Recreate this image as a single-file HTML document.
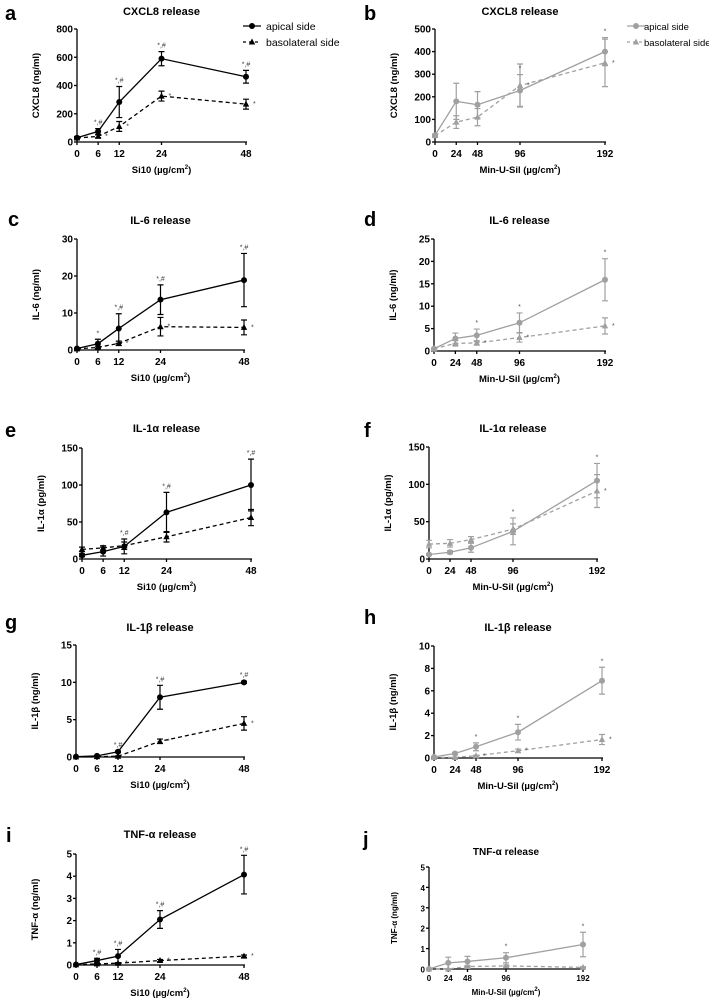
<!DOCTYPE html>
<html><head><meta charset="utf-8">
<style>
html,body{margin:0;padding:0;background:#fff;}
svg{display:block;font-family:"Liberation Sans",Arial,sans-serif;font-weight:bold;}
</style></head>
<body>
<svg id="fig" width="709" height="999" viewBox="0 0 709 999" xmlns="http://www.w3.org/2000/svg"></svg>
<script>
// ---- data ----
const xSi = [0, 6, 12, 24, 48];
const xMin = [0, 24, 48, 96, 192];
const aApical = [30, 75, 283, 590, 462];
const aApicalErr = [8, 20, 110, 50, 45];
const aBaso = [28, 40, 110, 325, 268];
const aBasoErr = [6, 10, 35, 35, 35];
const bApical = [30, 180, 165, 228, 400];
const bApicalErr = [5, 80, 58, 70, 62];
const bBaso = [28, 88, 110, 250, 350];
const bBasoErr = [5, 28, 38, 95, 105];
const cApical = [0.4, 1.7, 5.8, 13.6, 18.9];
const cApicalErr = [0.1, 1.2, 4, 4, 7.2];
const cBaso = [0.3, 0.7, 1.8, 6.3, 6.1];
const cBasoErr = [0.1, 0.3, 0.6, 2.5, 2];
const dApical = [0.5, 2.8, 3.5, 6.3, 15.9];
const dApicalErr = [0.1, 1.2, 1.4, 2.2, 4.7];
const dBaso = [0.5, 1.7, 1.8, 3, 5.6];
const dBasoErr = [0.1, 0.6, 0.5, 1, 1.8];
const eApical = [5, 10, 17, 63, 100];
const eApicalErr = [2, 6, 10, 27, 35];
const eBaso = [13, 15, 18, 30, 56];
const eBasoErr = [3, 3, 5, 7, 11];
const fApical = [6, 9, 15, 37, 105];
const fApicalErr = [1, 2, 6, 18, 23];
const fBaso = [20, 21, 26, 40, 91];
const fBasoErr = [5, 5, 4, 7, 22];
const gApical = [0.05, 0.15, 0.7, 8, 10];
const gApicalErr = [0.02, 0.05, 0.1, 1.6, 0.15];
const gBaso = [0.02, 0.05, 0.1, 2.1, 4.5];
const gBasoErr = [0.01, 0.02, 0.05, 0.3, 0.9];
const hApical = [0.1, 0.4, 1, 2.3, 6.9];
const hApicalErr = [0.02, 0.1, 0.35, 0.7, 1.2];
const hBaso = [0.05, 0.05, 0.2, 0.65, 1.65];
const hBasoErr = [0.01, 0.02, 0.05, 0.15, 0.45];
const iApical = [0.02, 0.2, 0.4, 2.05, 4.07];
const iApicalErr = [0.01, 0.1, 0.3, 0.4, 0.87];
const iBaso = [0.01, 0.05, 0.08, 0.2, 0.4];
const iBasoErr = [0.005, 0.02, 0.03, 0.05, 0.05];
const jApical = [0, 0.3, 0.37, 0.55, 1.2];
const jApicalErr = [0, 0.28, 0.25, 0.25, 0.6];
const jBaso = [0, 0, 0.12, 0.15, 0.08];
const jBasoErr = [0, 0, 0.05, 0.05, 0.03];
const ticksA = [0, 200, 400, 600, 800];
const ticksB = [0, 100, 200, 300, 400, 500];
const ticksC = [0, 10, 20, 30];
const ticksD = [0, 5, 10, 15, 20, 25];
const ticksE = [0, 50, 100, 150];
const ticksG = [0, 5, 10, 15];
const ticksH = [0, 2, 4, 6, 8, 10];
const ticksI = [0, 1, 2, 3, 4, 5];
const annA1 = ["", "*,#", "*,#", "*,#", "*,#"];
const annA2 = ["", "*", "*", "*", "*"];

const NS = "http://www.w3.org/2000/svg";
const svg = document.getElementById('fig');
function el(tag, attrs, parent, text) {
  const e = document.createElementNS(NS, tag);
  for (const k in attrs) e.setAttribute(k, attrs[k]);
  if (text !== undefined) e.textContent = text;
  (parent || svg).appendChild(e);
  return e;
}

const panels = [
 {id:'a', lx:5, ly:20, x0:77, x1:246, y0:142, y1:29, ymax:800, ticks:ticksA, xs:xSi, ap:aApical, ae:aApicalErr, bs:aBaso, be:aBasoErr, title:'CXCL8 release', ty:15, ytitle:'CXCL8 (ng/ml)', xt:'Si10', col:'#000', annA:annA1, annB:annA2, legend:true},
 {id:'b', lx:364, ly:20, x0:435, x1:605, y0:142, y1:29, ymax:500, ticks:ticksB, xs:xMin, ap:bApical, ae:bApicalErr, bs:bBaso, be:bBasoErr, title:'CXCL8 release', ty:15, ytitle:'CXCL8 (ng/ml)', xt:'Min-U-Sil', col:'#a0a0a0', annA:["","","","*","*"], annB:["","","","*","*"], legend:true},
 {id:'c', lx:8, ly:226, x0:77, x1:244, y0:350, y1:239, ymax:30, ticks:ticksC, xs:xSi, ap:cApical, ae:cApicalErr, bs:cBaso, be:cBasoErr, title:'IL-6 release', ty:224, ytitle:'IL-6 (ng/ml)', xt:'Si10', col:'#000', annA:["","*","*,#","*,#","*,#"], annB:["","","*","*","*"]},
 {id:'d', lx:364, ly:226, x0:434, x1:605, y0:351, y1:239, ymax:25, ticks:ticksD, xs:xMin, ap:dApical, ae:dApicalErr, bs:dBaso, be:dBasoErr, title:'IL-6 release', ty:224, ytitle:'IL-6 (ng/ml)', xt:'Min-U-Sil', col:'#a0a0a0', annA:["","","*","*","*"], annB:["","","*","*","*"]},
 {id:'e', lx:5, ly:437, x0:82, x1:251, y0:559, y1:448, ymax:150, ticks:ticksE, xs:xSi, ap:eApical, ae:eApicalErr, bs:eBaso, be:eBasoErr, title:'IL-1\u03B1 release', ty:432, ytitle:'IL-1\u03B1 (pg/ml)', xt:'Si10', col:'#000', annA:["","","*,#","*,#","*,#"], annB:["","","","",""]},
 {id:'f', lx:364, ly:437, x0:429, x1:597, y0:559, y1:447, ymax:150, ticks:ticksE, xs:xMin, ap:fApical, ae:fApicalErr, bs:fBaso, be:fBasoErr, title:'IL-1\u03B1 release', ty:432, ytitle:'IL-1\u03B1 (pg/ml)', xt:'Min-U-Sil', col:'#a0a0a0', annA:["","","","*","*"], annB:["","","","","*"]},
 {id:'g', lx:5, ly:629, x0:76, x1:244, y0:757, y1:645, ymax:15, ticks:ticksG, xs:xSi, ap:gApical, ae:gApicalErr, bs:gBaso, be:gBasoErr, title:'IL-1\u03B2 release', ty:631, ytitle:'IL-1\u03B2 (ng/ml)', xt:'Si10', col:'#000', annA:["","","*,#","*,#","*,#"], annB:["","","","*","*"]},
 {id:'h', lx:364, ly:624, x0:434, x1:602, y0:758, y1:646, ymax:10, ticks:ticksH, xs:xMin, ap:hApical, ae:hApicalErr, bs:hBaso, be:hBasoErr, title:'IL-1\u03B2 release', ty:631, ytitle:'IL-1\u03B2 (ng/ml)', xt:'Min-U-Sil', col:'#a0a0a0', annA:["","","*","*","*"], annB:["","","*","*","*"]},
 {id:'i', lx:6, ly:842, x0:76, x1:244, y0:965, y1:854, ymax:5, ticks:ticksI, xs:xSi, ap:iApical, ae:iApicalErr, bs:iBaso, be:iBasoErr, title:'TNF-\u03B1 release', ty:838, ytitle:'TNF-\u03B1 (ng/ml)', xt:'Si10', col:'#000', annA:["","*,#","*,#","*,#","*,#"], annB:["","","*","*","*"]},
 {id:'j', lx:363, ly:846, x0:429, x1:583, y0:969, y1:867, ymax:5, ticks:ticksI, xs:xMin, ap:jApical, ae:jApicalErr, bs:jBaso, be:jBasoErr, title:'TNF-\u03B1 release', ty:855, ytitle:'TNF-\u03B1 (ng/ml)', xt:'Min-U-Sil', col:'#a0a0a0', annA:["","","","*","*"], annB:["","","","",""], small:true}
];

panels.forEach(p => {
  const g = el('g', {});
  
  
  const fs = p.small ? 8 : 10;
  const xmax = p.xs[p.xs.length - 1];
  const X = v => p.x0 + (p.x1 - p.x0) * v / xmax;
  const Y = v => p.y0 - (p.y0 - p.y1) * v / p.ymax;
  const lab = el('text', {x:p.lx, y:p.ly, 'font-size':20}, g, p.id);
  
  
  const t = el('text', {x:(p.x0 + p.x1) / 2, y:p.ty, 'font-size':p.small ? 10 : 11, 'text-anchor':'middle'}, g, p.title);
  
  
  const ax = el('g', {stroke:'#000', 'stroke-width':1.3}, g);
  
  
  el('line', {x1:p.x0, y1:p.y0, x2:p.x0, y2:p.y1}, ax);
  el('line', {x1:p.x0, y1:p.y0, x2:p.x1 + 1, y2:p.y0}, ax);
  p.ticks.forEach(v => {
    el('line', {x1:p.x0 - 3, y1:Y(v), x2:p.x0, y2:Y(v)}, ax);
    const tl = el('text', {x:p.x0 - 4, y:Y(v) + 3.5, 'font-size':fs, 'text-anchor':'end'}, g, v);
    
    
  });
  p.xs.forEach(v => {
    el('line', {x1:X(v), y1:p.y0, x2:X(v), y2:p.y0 + 3}, ax);
    const tl = el('text', {x:X(v), y:p.y0 + (p.small ? 12 : 15), 'font-size':fs, 'text-anchor':'middle'}, g, v);
    
    
  });
  const xt = el('text', {x:(p.x0 + p.x1) / 2, y:p.y0 + (p.small ? 26 : 31), 'font-size':p.small ? 8 : 9.5, 'text-anchor':'middle'}, g);
  
  
  el('tspan', {}, xt, p.xt + ' (\u00B5g/cm');
  el('tspan', {'font-size':6, dy:-4}, xt, '2');
  el('tspan', {dy:4}, xt, ')');
  const cy = (p.y0 + p.y1) / 2;
  const yx = p.x0 - (p.small ? 32 : 38);
  const yt = el('text', {x:yx, y:cy, 'font-size':p.small ? 8 : 9.5, 'text-anchor':'middle', transform:'rotate(-90 ' + yx + ' ' + cy + ')'}, g, p.ytitle);
  
  
  const series = [
    {vals:p.bs, errs:p.be, dash:'4,3', marker:'tri', ann:p.annB, name:'basolateral'},
    {vals:p.ap, errs:p.ae, dash:null, marker:'circ', ann:p.annA, name:'apical'}
  ];
  series.forEach(s => {
    const sg = el('g', {}, g);
    
    
    const pts = p.xs.map((x, i) => X(x) + ',' + Y(s.vals[i])).join(' ');
    const pl = el('polyline', {points:pts, fill:'none', stroke:p.col, 'stroke-width':1.3}, sg);
    if (s.dash) pl.setAttribute('stroke-dasharray', s.dash);
    
    
    p.xs.forEach((x, i) => {
      const cx = X(x), vy = Y(s.vals[i]);
      const hi = Y(s.vals[i] + s.errs[i]), lo = Y(Math.max(0, s.vals[i] - s.errs[i]));
      const eb = el('path', {d:'M' + cx + ',' + hi + 'V' + lo + 'M' + (cx - 3) + ',' + hi + 'H' + (cx + 3) + 'M' + (cx - 3) + ',' + lo + 'H' + (cx + 3), stroke:p.col, 'stroke-width':1.2, fill:'none'}, sg);
      
      
      let m;
      if (s.marker === 'circ') m = el('circle', {cx:cx, cy:vy, r:3, fill:p.col}, sg);
      else m = el('path', {d:'M' + cx + ',' + (vy - 3.5) + 'L' + (cx + 3.2) + ',' + (vy + 2.5) + 'L' + (cx - 3.2) + ',' + (vy + 2.5) + 'Z', fill:p.col}, sg);
      
      
      if (s.ann[i]) {
        const at = el('text', {x:cx + (s.name === 'basolateral' ? 7 : 0), y:(s.name === 'basolateral' ? vy + 2 : hi - 4), 'font-size':7, 'font-weight':'normal', fill:p.col === '#000' ? '#444' : '#555', 'text-anchor':s.name === 'basolateral' ? 'start' : 'middle'}, sg, s.ann[i]);
        
        
      }
    });
  });
  if (p.legend) {
    const lg = el('g', {}, g);
    
    
    const isB = p.id === 'b';
    const lx = isB ? 627 : 243;
    const tx = isB ? lx + 17 : lx + 23;
    const lfs = isB ? 9.5 : 10.5;
    el('line', {x1:lx, y1:26, x2:lx + 18, y2:26, stroke:p.col, 'stroke-width':1.3}, lg);
    el('circle', {cx:lx + 9, cy:26, r:3, fill:p.col}, lg);
    const l1 = el('text', {x:tx, y:30, 'font-size':lfs, 'font-weight':'normal'}, lg, 'apical side');
    
    
    el('line', {x1:lx, y1:42, x2:lx + 18, y2:42, stroke:p.col, 'stroke-width':1.3, 'stroke-dasharray':'3,3'}, lg);
    el('path', {d:'M' + (lx + 9) + ',38.5L' + (lx + 12.2) + ',44.5L' + (lx + 5.8) + ',44.5Z', fill:p.col}, lg);
    const l2 = el('text', {x:tx, y:46, 'font-size':lfs, 'font-weight':'normal'}, lg, 'basolateral side');
    
    
  }
});
</script>
</body></html>
